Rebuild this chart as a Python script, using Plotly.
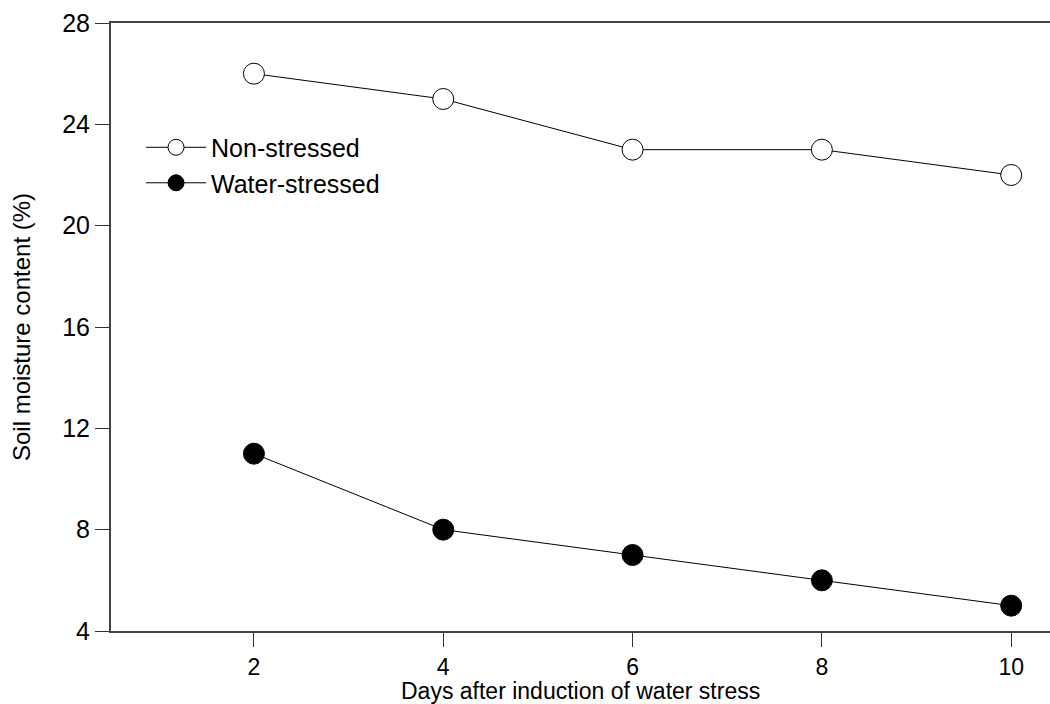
import plotly.graph_objects as go

# Soil moisture content over days after inducing water stress
days = [2, 4, 6, 8, 10]
non_stressed = [26, 25, 23, 23, 22]
water_stressed = [11, 8, 7, 6, 5]
y_ticks = [4, 8, 12, 16, 20, 24, 28]

font_family = "Liberation Sans, Arial, sans-serif"

fig = go.Figure()
fig.add_trace(go.Scatter(
    x=days, y=non_stressed, name="Non-stressed", mode="lines+markers",
    line=dict(color="black", width=1),
    marker=dict(symbol="circle", size=21, color="white",
                line=dict(color="black", width=1)),
))
fig.add_trace(go.Scatter(
    x=days, y=water_stressed, name="Water-stressed", mode="lines+markers",
    line=dict(color="black", width=1),
    marker=dict(symbol="circle", size=21, color="black",
                line=dict(color="black", width=1)),
))

fig.update_layout(
    width=1050, height=704,
    margin=dict(l=111, r=0, t=23, b=73),
    plot_bgcolor="white", paper_bgcolor="white",
    font=dict(family=font_family, color="black", size=24),
    showlegend=True,
    legend=dict(
        x=0.032, y=0.833, xanchor="left", yanchor="top",
        font=dict(size=25, family=font_family, color="black"),
        bgcolor="rgba(0,0,0,0)", tracegroupgap=0, itemwidth=60,
    ),
    xaxis=dict(
        range=[0.49, 10.41], tickvals=days, ticks="outside", ticklen=14,
        tickcolor="#333", tickwidth=1, showgrid=False, zeroline=False,
        showline=True, linecolor="#444", linewidth=2, mirror=True,
        tickfont=dict(size=23),
    ),
    yaxis=dict(
        range=[4, 28], tickvals=y_ticks, ticks="outside", ticklen=14,
        tickcolor="#333", tickwidth=1, showgrid=False, zeroline=False,
        showline=True, linecolor="#444", linewidth=2,
        tickfont=dict(size=25),
        title=dict(text="Soil moisture content (%)",
                   font=dict(size=24), standoff=25),
    ),
)

# x-axis title placed just under the tick labels
fig.add_annotation(
    text="Days after induction of water stress",
    xref="paper", yref="paper", x=0.5, y=0,
    xanchor="center", yanchor="top", yshift=-45,
    showarrow=False, font=dict(size=23, family=font_family, color="black"),
)

fig.write_html("out.html")
